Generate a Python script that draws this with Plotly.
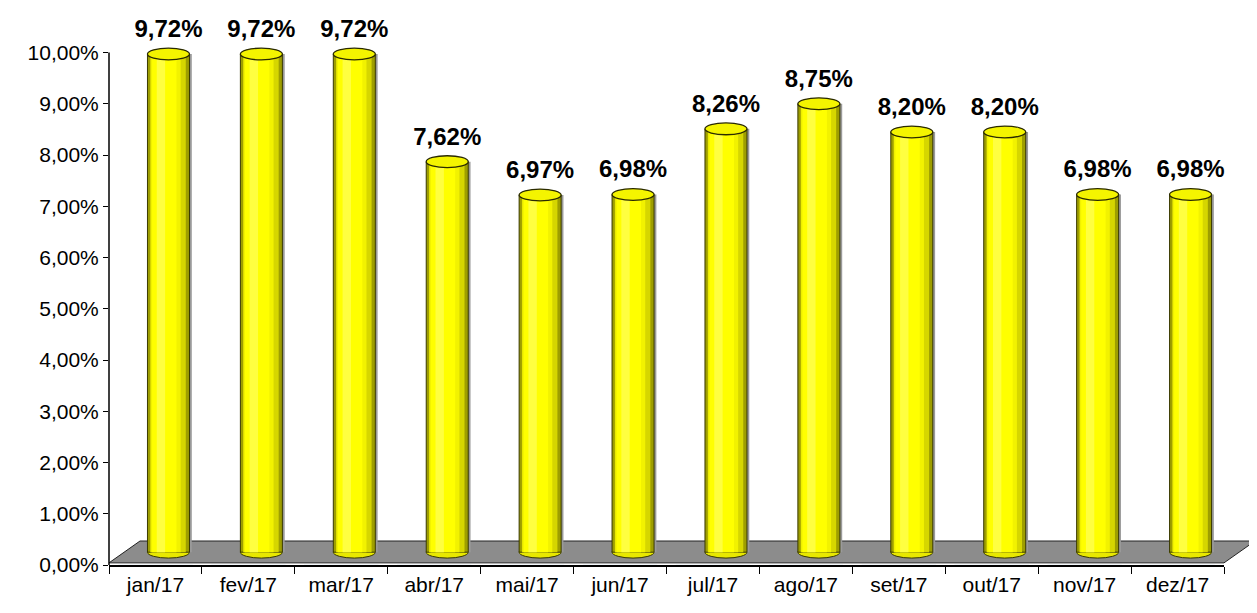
import plotly.graph_objects as go

categories = ["jan/17", "fev/17", "mar/17", "abr/17", "mai/17", "jun/17",
              "jul/17", "ago/17", "set/17", "out/17", "nov/17", "dez/17"]
values = [9.72, 9.72, 9.72, 7.62, 6.97, 6.98, 8.26, 8.75, 8.20, 8.20, 6.98, 6.98]

FONT = "Arial, Liberation Sans, sans-serif"
BAR_W = 0.452
ELL_H = 0.115
Y_TOP = 10.4

fig = go.Figure()

# invisible trace on the main axes so the category axis exists
fig.add_trace(go.Bar(x=categories, y=[0] * len(categories), showlegend=False,
                     hoverinfo="skip", marker_color="rgba(0,0,0,0)"))

# cylinder layers (drawn on shifted axes to mimic 3-D depth)
layers = [
    dict(offset=-BAR_W / 2 + 0.025, width=BAR_W, color="#9A9A9A", line=0),
    dict(offset=-BAR_W / 2, width=BAR_W, color="#9E9E00", line=1),
    dict(offset=-BAR_W / 2 + 0.03, width=BAR_W - 0.07, color="#D6D600", line=0),
    dict(offset=-BAR_W / 2 + 0.035, width=BAR_W - 0.13, color="#F2F200", line=0),
    dict(offset=-BAR_W / 2 + 0.05, width=BAR_W - 0.19, color="#FFFF00", line=0),
    dict(offset=-BAR_W / 2 + 0.10, width=0.09, color="#FFFF40", line=0),
]
for ly in layers:
    fig.add_trace(go.Bar(
        x=categories, y=values, xaxis="x2", yaxis="y2",
        offset=ly["offset"], width=ly["width"],
        marker=dict(color=ly["color"],
                    line=dict(color="#3A3A00", width=ly["line"])),
        showlegend=False, hoverinfo="skip",
    ))

# data labels
fig.add_trace(go.Scatter(
    x=categories, y=values, xaxis="x2", yaxis="y2",
    mode="markers+text", marker=dict(size=16, color="rgba(0,0,0,0)"),
    texttemplate="%{y:.2f}%", textposition="top center",
    textfont=dict(family=FONT, size=24, color="black", weight="bold"),
    cliponaxis=False, showlegend=False, hoverinfo="skip",
))

shapes = []
# floor
shapes.append(dict(
    type="path", xref="paper", yref="paper", layer="below",
    path="M 0,0.004 L 0.0278,0.045 L 1.0278,0.045 L 1.0,0.004 Z",
    fillcolor="#8C8C8C", line=dict(color="#222222", width=1),
))
# bottom ellipses and top ellipses
for i, v in enumerate(values):
    shapes.append(dict(
        type="circle", xref="x2", yref="y2", layer="below",
        x0=i - BAR_W / 2, x1=i + BAR_W / 2, y0=-ELL_H, y1=ELL_H,
        fillcolor="#E8E800", line=dict(color="#3A3A00", width=1),
    ))
for i, v in enumerate(values):
    shapes.append(dict(
        type="circle", xref="x2", yref="y2", layer="above",
        x0=i - BAR_W / 2, x1=i + BAR_W / 2, y0=v - ELL_H, y1=v + ELL_H,
        fillcolor="#F4F400", line=dict(color="#2A2A00", width=1.3),
    ))
# value axis line (only up to 10 %)
shapes.append(dict(type="line", xref="paper", yref="y", x0=0, x1=0, y0=0, y1=10,
                   line=dict(color="black", width=1.5), layer="above"))

fig.update_layout(
    width=1249, height=605,
    margin=dict(l=101, r=33, t=24, b=48),
    paper_bgcolor="white", plot_bgcolor="white",
    barmode="overlay", separators=",.",
    font=dict(family=FONT, size=21, color="black"),
    shapes=shapes,
    xaxis=dict(type="category", categoryorder="array", categoryarray=categories,
               range=[-0.5, 11.5], showline=True, linecolor="black", linewidth=1.5,
               ticks="outside", ticklen=7, tickcolor="black", tickson="boundaries",
               showgrid=False, zeroline=False,
               tickfont=dict(family=FONT, size=21, color="black")),
    yaxis=dict(range=[0, Y_TOP], tickmode="linear", tick0=0, dtick=1,
               tickformat=".2f", ticksuffix="%", showline=False,
               ticks="outside", ticklen=5, tickcolor="black",
               showgrid=False, zeroline=False,
               tickfont=dict(family=FONT, size=21, color="black")),
    xaxis2=dict(type="category", categoryorder="array", categoryarray=categories,
                overlaying="x", range=[-0.64, 11.36], visible=False),
    yaxis2=dict(overlaying="y", range=[-0.25, Y_TOP - 0.25], visible=False),
)

fig.write_html("out.html")
